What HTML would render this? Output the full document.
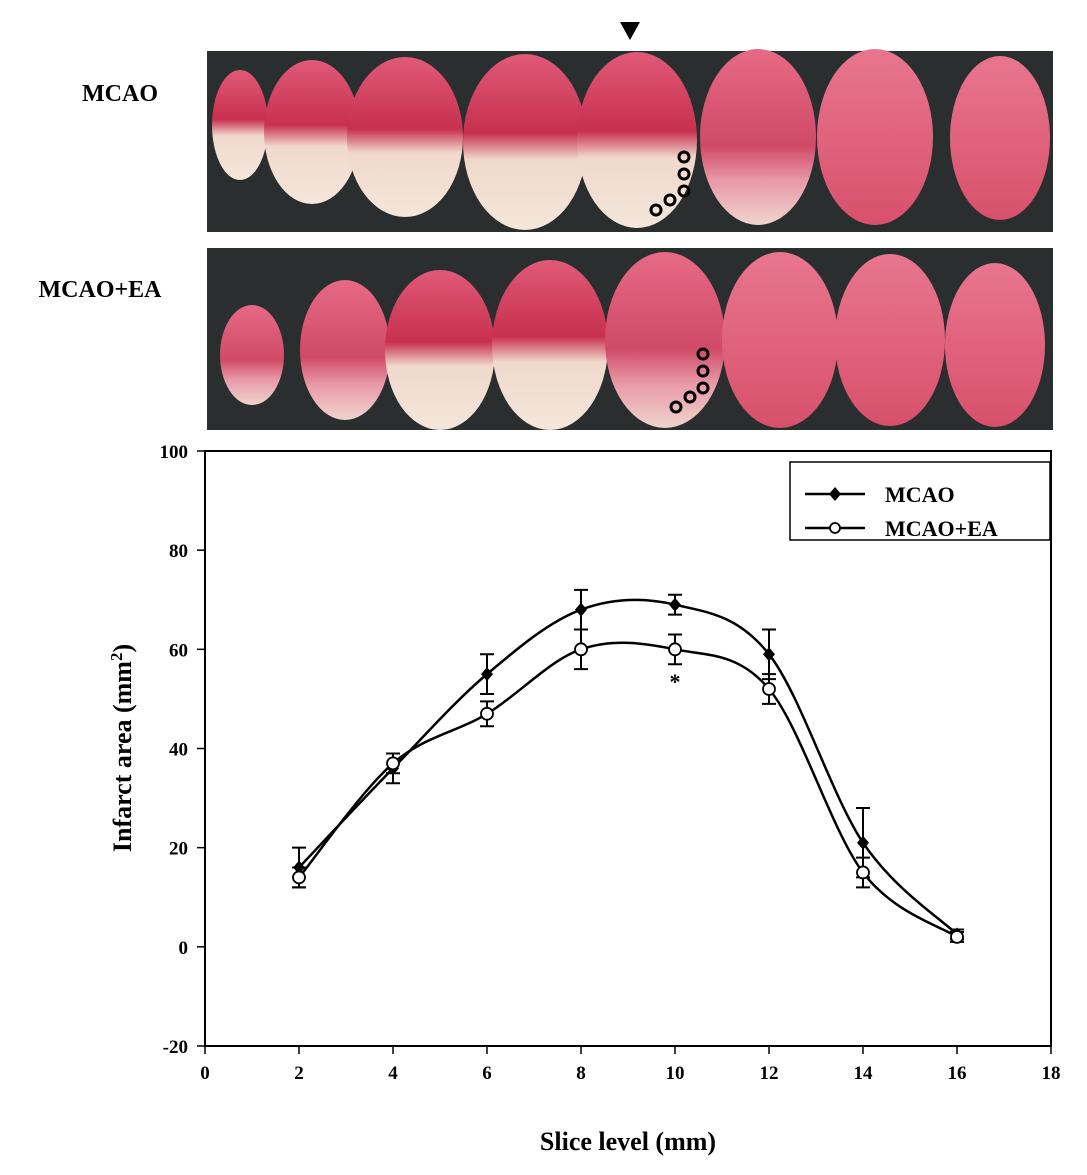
<!DOCTYPE html>
<html><head><meta charset="utf-8"><style>
body{margin:0;background:#fff;width:1087px;height:1175px;overflow:hidden}
svg{display:block}
text{font-family:"Liberation Serif",serif;font-weight:bold}
</style></head><body>
<svg id="fig" width="1087" height="1175" viewBox="0 0 1087 1175">
<defs>
<linearGradient id="gA" x1="0" y1="0" x2="0" y2="1">
<stop offset="0" stop-color="#e05a78"/><stop offset="0.45" stop-color="#c8304f"/><stop offset="0.6" stop-color="#f0d8cc"/><stop offset="1" stop-color="#f4e6da"/></linearGradient>
<linearGradient id="gB" x1="0" y1="0" x2="0" y2="1">
<stop offset="0" stop-color="#e66a85"/><stop offset="0.55" stop-color="#d04a68"/><stop offset="0.75" stop-color="#e89aa8"/><stop offset="1" stop-color="#f0d4cc"/></linearGradient>
<linearGradient id="gC" x1="0" y1="0" x2="0" y2="1">
<stop offset="0" stop-color="#e8768e"/><stop offset="1" stop-color="#d8506c"/></linearGradient>
</defs>
<g>
<rect x="207" y="51" width="846" height="181" fill="#2b2e2e"/>
</g>
<g>
<rect x="207" y="248" width="846" height="182" fill="#2b2e2e"/>
</g>
<g id="slices"></g>
<text x="120" y="101" font-size="24" text-anchor="middle">MCAO</text>
<text x="100" y="297" font-size="24" text-anchor="middle">MCAO+EA</text>
<polygon points="620,22 640,22 630,40" fill="#000"/>
<g id="chart"></g>
</svg>
<script>
const NS="http://www.w3.org/2000/svg";
function mk(tag,attrs,parent){const e=document.createElementNS(NS,tag);for(const k in attrs)e.setAttribute(k,attrs[k]);parent.appendChild(e);return e;}
// photo slices (decorative)
const sl=document.getElementById('slices');
const top1=[[240,125,28,55,'gA'],[312,132,48,72,'gA'],[405,137,58,80,'gA'],[525,142,62,88,'gA'],[637,140,60,88,'gA'],[758,137,58,88,'gB'],[875,137,58,88,'gC'],[1000,138,50,82,'gC']];
const top2=[[252,355,32,50,'gB'],[345,350,45,70,'gB'],[440,350,55,80,'gA'],[550,345,58,85,'gA'],[665,340,60,88,'gB'],[780,340,58,88,'gC'],[890,340,55,86,'gC'],[995,345,50,82,'gC']];
[top1,top2].forEach((row,ri)=>row.forEach((s,i)=>{
const e=mk('ellipse',{cx:s[0],cy:s[1],rx:s[2],ry:s[3],fill:`url(#${s[4]})`},sl);


}));
[[685,158],[673,170],[661,182],[662,211],[674,199],[686,187]].slice(0,0);
const circ1=[[684,157],[684,174],[684,191],[670,200],[656,210]];
const circ2=[[703,354],[703,371],[703,388],[690,397],[676,407]];
circ1.concat(circ2).forEach(c=>{
const e=mk('circle',{cx:c[0],cy:c[1],r:5,fill:'none',stroke:'#000','stroke-width':3},sl);


});

// chart data
const xs=[2,4,6,8,10,12,14,16];
const mcao=[16,36,55,68,69,59,21,2.5];
const mcaoErr=[4,3,4,4,2,5,7,1];
const ea=[14,37,47,60,60,52,15,2];
const eaErr=[2,2,2.5,4,3,3,3,1];
const xTicks=[0,2,4,6,8,10,12,14,16,18];
const yTicks=[-20,0,20,40,60,80,100];

const X0=205,X1=1051,Y0=1046,Y1=451;
const sx=v=>X0+(v-0)/18*(X1-X0);
const sy=v=>Y0-(v+20)/120*(Y0-Y1);
const ch=document.getElementById('chart');
let e=mk('rect',{x:X0,y:Y1,width:X1-X0,height:Y0-Y1,fill:'none',stroke:'#000','stroke-width':2},ch);


xTicks.forEach(t=>{
mk('line',{x1:sx(t),x2:sx(t),y1:Y0,y2:Y0+8,stroke:'#000','stroke-width':1.5},ch);
const tx=mk('text',{x:sx(t),y:Y0+33,'font-size':19,'text-anchor':'middle'},ch);tx.textContent=t;


});
yTicks.forEach(t=>{
mk('line',{x1:X0-8,x2:X0,y1:sy(t),y2:sy(t),stroke:'#000','stroke-width':1.5},ch);
const tx=mk('text',{x:X0-17,y:sy(t)+7,'font-size':19,'text-anchor':'end'},ch);tx.textContent=t;


});
let t=mk('text',{x:628,y:1150,'font-size':26,'text-anchor':'middle'},ch);t.textContent='Slice level (mm)';


t=mk('text',{transform:'translate(131,748) rotate(-90)','font-size':26,'text-anchor':'middle'},ch);
t.innerHTML='Infarct area (mm<tspan dy="-9" font-size="17">2</tspan><tspan dy="9">)</tspan>';



function spline(vals){
const p=xs.map((x,i)=>[sx(x),sy(vals[i])]);
let d=`M${p[0][0]},${p[0][1]}`;
for(let i=0;i<p.length-1;i++){
const p0=p[Math.max(0,i-1)],p1=p[i],p2=p[i+1],p3=p[Math.min(p.length-1,i+2)];
const c1=[p1[0]+(p2[0]-p0[0])/6,p1[1]+(p2[1]-p0[1])/6];
const c2=[p2[0]-(p3[0]-p1[0])/6,p2[1]-(p3[1]-p1[1])/6];
d+=`C${c1[0]},${c1[1]} ${c2[0]},${c2[1]} ${p2[0]},${p2[1]}`;}
return d;}
function series(vals,errs,filled,name){
const g=mk('g',{},ch);


const l=mk('path',{d:spline(vals),fill:'none',stroke:'#000','stroke-width':2.5},g);


xs.forEach((x,i)=>{
const cx=sx(x),y1=sy(vals[i]+errs[i]),y2=sy(vals[i]-errs[i]);
const eb=mk('path',{d:`M${cx},${y1}V${y2}M${cx-7},${y1}H${cx+7}M${cx-7},${y2}H${cx+7}`,stroke:'#000','stroke-width':2,fill:'none'},g);


let m;
if(filled){const cy=sy(vals[i]);m=mk('polygon',{points:`${cx},${cy-7} ${cx+6},${cy} ${cx},${cy+7} ${cx-6},${cy}`,fill:'#000'},g);}
else m=mk('circle',{cx:cx,cy:sy(vals[i]),r:6,fill:'#fff',stroke:'#000','stroke-width':1.8},g);


});}
series(mcao,mcaoErr,true,'mcao');
series(ea,eaErr,false,'mcao-ea');
t=mk('text',{x:sx(10),y:sy(ea[4]-eaErr[4])+25,'font-size':22,'text-anchor':'middle'},ch);t.textContent='*';


// legend
const lg=mk('g',{},ch);


mk('rect',{x:790,y:462,width:260,height:78,fill:'#fff',stroke:'#000','stroke-width':1.5},lg);
mk('line',{x1:805,x2:865,y1:494,y2:494,stroke:'#000','stroke-width':2.5},lg);
mk('polygon',{points:'835,487 841,494 835,501 829,494',fill:'#000'},lg);
mk('line',{x1:805,x2:865,y1:528,y2:528,stroke:'#000','stroke-width':2.5},lg);
mk('circle',{cx:835,cy:528,r:5,fill:'#fff',stroke:'#000','stroke-width':1.8},lg);
t=mk('text',{x:885,y:502,'font-size':22},lg);t.textContent='MCAO';


t=mk('text',{x:885,y:536,'font-size':22},lg);t.textContent='MCAO+EA';


</script>
</body></html>
